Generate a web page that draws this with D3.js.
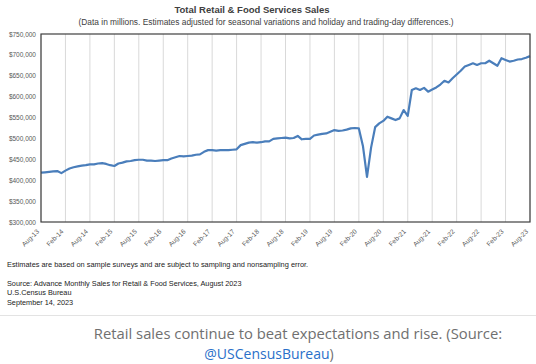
<!DOCTYPE html>
<html><head><meta charset="utf-8">
<script src="https://cdn.jsdelivr.net/npm/d3@7"></script>
<style>
html,body{margin:0;padding:0;background:#fff;}
svg{display:block;}
</style></head>
<body>
<svg id="c" width="536" height="364"></svg>
<script>
// Data (millions of dollars), monthly Aug-2013 .. Aug-2023
const firstMonth = "Aug-13";
const sales = [
  // 2013 Aug-Dec
  418000, 419000, 420000, 421000, 422000,
  // 2014
  417000, 423000, 428000, 431000, 433000, 435000, 436000, 438000, 438000, 440000, 441000, 439000,
  // 2015
  436000, 434000, 440000, 442000, 445000, 446000, 448000, 449000, 449000, 447000, 447000, 446000,
  // 2016
  447000, 448000, 448000, 452000, 455000, 458000, 457000, 458000, 459000, 461000, 462000, 468000,
  // 2017
  472000, 472000, 471000, 472000, 472000, 472000, 473000, 474000, 484000, 487000, 490000, 491000,
  // 2018
  490000, 491000, 493000, 493000, 499000, 500000, 501000, 502000, 500000, 501000, 506000, 498000,
  // 2019
  499000, 499000, 507000, 509000, 511000, 512000, 516000, 520000, 518000, 519000, 521000, 524000,
  // 2020
  525000, 524000, 482000, 408000, 478000, 527000, 536000, 542000, 552000, 548000, 544000, 548000,
  // 2021
  568000, 554000, 616000, 620000, 616000, 621000, 612000, 617000, 622000, 629000, 638000, 634000,
  // 2022
  644000, 653000, 662000, 672000, 676000, 680000, 676000, 680000, 680000, 686000, 680000, 674000,
  // 2023 Jan-Aug
  692000, 688000, 684000, 686000, 689000, 690000, 693000, 697000
];
const xTickLabels = ["Aug-13","Feb-14","Aug-14","Feb-15","Aug-15","Feb-16","Aug-16","Feb-17","Aug-17","Feb-18",
  "Aug-18","Feb-19","Aug-19","Feb-20","Aug-20","Feb-21","Aug-21","Feb-22","Aug-22","Feb-23","Aug-23"];
const yTicks = [300000,350000,400000,450000,500000,550000,600000,650000,700000,750000];
const title = "Total Retail & Food Services Sales";
const subtitle = "(Data in millions. Estimates adjusted for seasonal variations and holiday and trading-day differences.)";
const notes = ["Estimates are based on sample surveys and are subject to sampling and nonsampling error."];
const sourceLines = ["Source: Advance Monthly Sales for Retail & Food Services, August 2023","U.S.Census Bureau","September 14, 2023"];
const caption1 = "Retail sales continue to beat expectations and rise. (Source:";
const captionLink = "@USCensusBureau";
const captionEnd = ")";

const svg = d3.select("#c");
const L = 41, R = 530, T = 34, B = 222;
const x = d3.scaleLinear().domain([0, sales.length - 1]).range([L, R]);
const y = d3.scaleLinear().domain([300000, 750000]).range([B, T]);
const font = "'Liberation Sans', Arial, sans-serif";

// title
svg.append("text").attr("x", 252).attr("y", 13).attr("text-anchor","middle")
  .attr("font-family", font).attr("font-weight","bold").attr("font-size", 9.5).attr("fill","#404040").text(title);
svg.append("text").attr("x", 266).attr("y", 24.5).attr("text-anchor","middle")
  .attr("font-family", font).attr("font-size", 8.4).attr("fill","#404040").text(subtitle);

// vertical grid
const tickIdx = xTickLabels.map((d,i) => i*6);
svg.append("g").selectAll("line").data(tickIdx).join("line")
  .attr("x1", d => x(d)).attr("x2", d => x(d)).attr("y1", T).attr("y2", B)
  .attr("stroke", "#d9d9d9").attr("stroke-width", 1);

// y axis labels
const yAxis = d3.axisLeft(y).tickValues(yTicks).tickSize(0).tickPadding(5)
  .tickFormat(d => "$" + d3.format(",")(d));
const gy = svg.append("g").attr("transform", `translate(${L},0)`).call(yAxis);
gy.select(".domain").remove();
gy.selectAll("text").attr("font-family", font).attr("font-size", 6.5).attr("fill", "#595959");

// x axis labels
const xAxis = d3.axisBottom(x).tickValues(tickIdx).tickSize(0).tickPadding(0)
  .tickFormat((d,i) => xTickLabels[i]);
const gx = svg.append("g").attr("transform", `translate(0,${B})`).call(xAxis);
gx.select(".domain").remove();
gx.selectAll("text").attr("font-family", font).attr("font-size", 6.6).attr("fill", "#595959")
  .attr("text-anchor","end").attr("dy", null).attr("y", 0)
  .attr("transform", "translate(-2,10) rotate(-45)");

// line
const line = d3.line().x((d,i) => x(i)).y(d => y(d));
svg.append("path").datum(sales).attr("d", line).attr("fill","none")
  .attr("stroke", "#4a7ebb").attr("stroke-width", 2.2).attr("stroke-linejoin","round");

// plot border
svg.append("rect").attr("x", L).attr("y", T).attr("width", R-L).attr("height", B-T)
  .attr("fill","none").attr("stroke","#404040").attr("stroke-width",1.2);

// notes
svg.append("text").attr("x", 7).attr("y", 267).attr("font-family", font).attr("font-size", 7.4)
  .attr("fill","#222").text(notes[0]);
svg.selectAll(".src").data(sourceLines).join("text").attr("class","src")
  .attr("x", 7).attr("y", (d,i) => 286 + i*9.3).attr("font-family", font).attr("font-size", 7.3)
  .attr("fill","#222").text(d => d);

// separator
svg.append("line").attr("x1",0).attr("x2",536).attr("y1",315.5).attr("y2",315.5)
  .attr("stroke","#e3e3e3").attr("stroke-width",1);

// caption
const cf = "'Open Sans', 'Noto Sans', sans-serif";
svg.append("text").attr("x", 298).attr("y", 339).attr("text-anchor","middle")
  .attr("font-family", cf).attr("font-size", 14.8).attr("fill","#707070").text(caption1);
const c2 = svg.append("text").attr("x", 269).attr("y", 359).attr("text-anchor","middle")
  .attr("font-family", cf).attr("font-size", 14).attr("fill","#707070");
c2.append("tspan").attr("fill","#2a6fc9").text(captionLink);
c2.append("tspan").text(captionEnd);
</script>
</body></html>
